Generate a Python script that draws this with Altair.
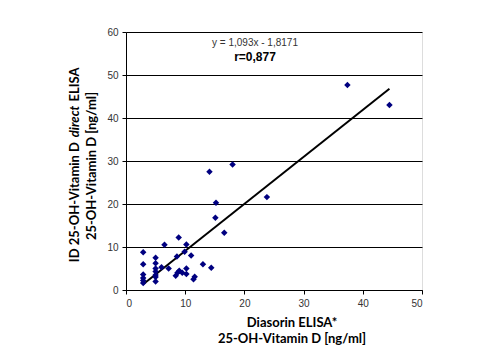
import altair as alt
import pandas as pd

# Data
diasorin = [2.9, 2.9, 2.9, 2.9, 2.9, 2.9,
            5.0, 5.0, 5.0, 5.0, 5.0, 5.0, 5.0,
            6.0, 7.2, 6.5,
            8.4, 8.7, 9.0, 9.5, 10.2, 10.2, 8.6, 9.9, 8.9, 10.2, 11.0, 11.4, 11.6, 13.0, 14.4,
            14.1, 18.0, 15.2, 15.1, 16.6, 23.8, 37.4, 44.5]
id_direct = [8.8, 6.0, 3.6, 2.8, 2.2, 1.6,
             7.5, 6.2, 5.0, 4.3, 3.5, 3.0, 2.0,
             5.3, 5.0, 10.5,
             3.3, 4.0, 4.5, 4.0, 3.7, 5.0, 7.8, 8.9, 12.2, 10.6, 8.0, 2.5, 3.1, 6.0, 5.2,
             27.5, 29.2, 20.3, 16.8, 13.3, 21.6, 47.7, 43.0]

trend_x = [2.85, 44.5]
trend_y = [1.3, 46.8]

x_ticks = [0, 10, 20, 30, 40, 50]
y_ticks = [0, 10, 20, 30, 40, 50, 60]

equation = "y = 1,093x - 1,8171"
r_text = "r=0,877"

pts = pd.DataFrame({"x": diasorin, "y": id_direct})
trend = pd.DataFrame({"x": trend_x, "y": trend_y})

xs = alt.Scale(domain=[0, 50], nice=False, zero=False)
ys = alt.Scale(domain=[0, 60], nice=False, zero=False)

lab_font = "Liberation Sans"
title_font = "Lato"

xaxis = alt.Axis(values=x_ticks, title=None, grid=False, domainColor="black",
                 tickColor="black", tickSize=4, labelFont=lab_font, labelFontSize=10,
                 labelColor="#333333", labelPadding=4)
yaxis = alt.Axis(values=y_ticks, title=None, grid=True, gridColor="black", gridOpacity=1,
                 gridWidth=1, domainColor="black", tickColor="black", tickSize=4,
                 labelFont=lab_font, labelFontSize=10, labelColor="#333333", labelPadding=4)

points = alt.Chart(pts).mark_point(shape="diamond", filled=True, color="#000080",
                                   size=42, opacity=1).encode(
    x=alt.X("x:Q", scale=xs, axis=xaxis),
    y=alt.Y("y:Q", scale=ys, axis=yaxis),
)

line = alt.Chart(trend).mark_line(color="black", strokeWidth=2).encode(
    x=alt.X("x:Q", scale=xs),
    y=alt.Y("y:Q", scale=ys),
)


def txt(s, x, y, size, weight="normal", style="normal", align="center", angle=0,
        color="black", font=title_font, baseline="middle"):
    return alt.Chart(pd.DataFrame({"t": [s]})).mark_text(
        font=font, fontSize=size, fontWeight=weight, fontStyle=style, align=align,
        baseline=baseline, angle=angle, color=color,
    ).encode(x=alt.value(x), y=alt.value(y), text="t:N")


texts = [
    txt(equation, 129, 11, 10, color="#333333", font=lab_font),
    txt(r_text, 129, 25, 12, weight="bold", font=lab_font),
    txt("Diasorin ELISA*", 166, 295, 13, weight="bold", baseline="alphabetic"),
    txt("25-OH-Vitamin D [ng/ml]", 166, 310.5, 13, weight="bold", baseline="alphabetic"),
    txt("ID 25-OH-Vitamin D", -51, 110, 13, weight="bold", align="right", angle=270),
    txt("direct", -51, 89.5, 13, weight="bold", style="italic", angle=270),
    txt("ELISA", -51, 69.5, 13, weight="bold", align="left", angle=270),
    txt("25-OH-Vitamin D [ng/ml]", -34.5, 134, 13, weight="bold", angle=270),
]

chart = alt.layer(line, points, *texts).properties(
    width=296, height=258,
    autosize=alt.AutoSizeParams(type="none"),
    padding={"left": 118, "top": 24, "right": 73, "bottom": 57},
).configure_view(stroke="black", strokeWidth=1).configure(background="white")

chart.save("out.html", embed_options={"renderer": "svg", "actions": False})
